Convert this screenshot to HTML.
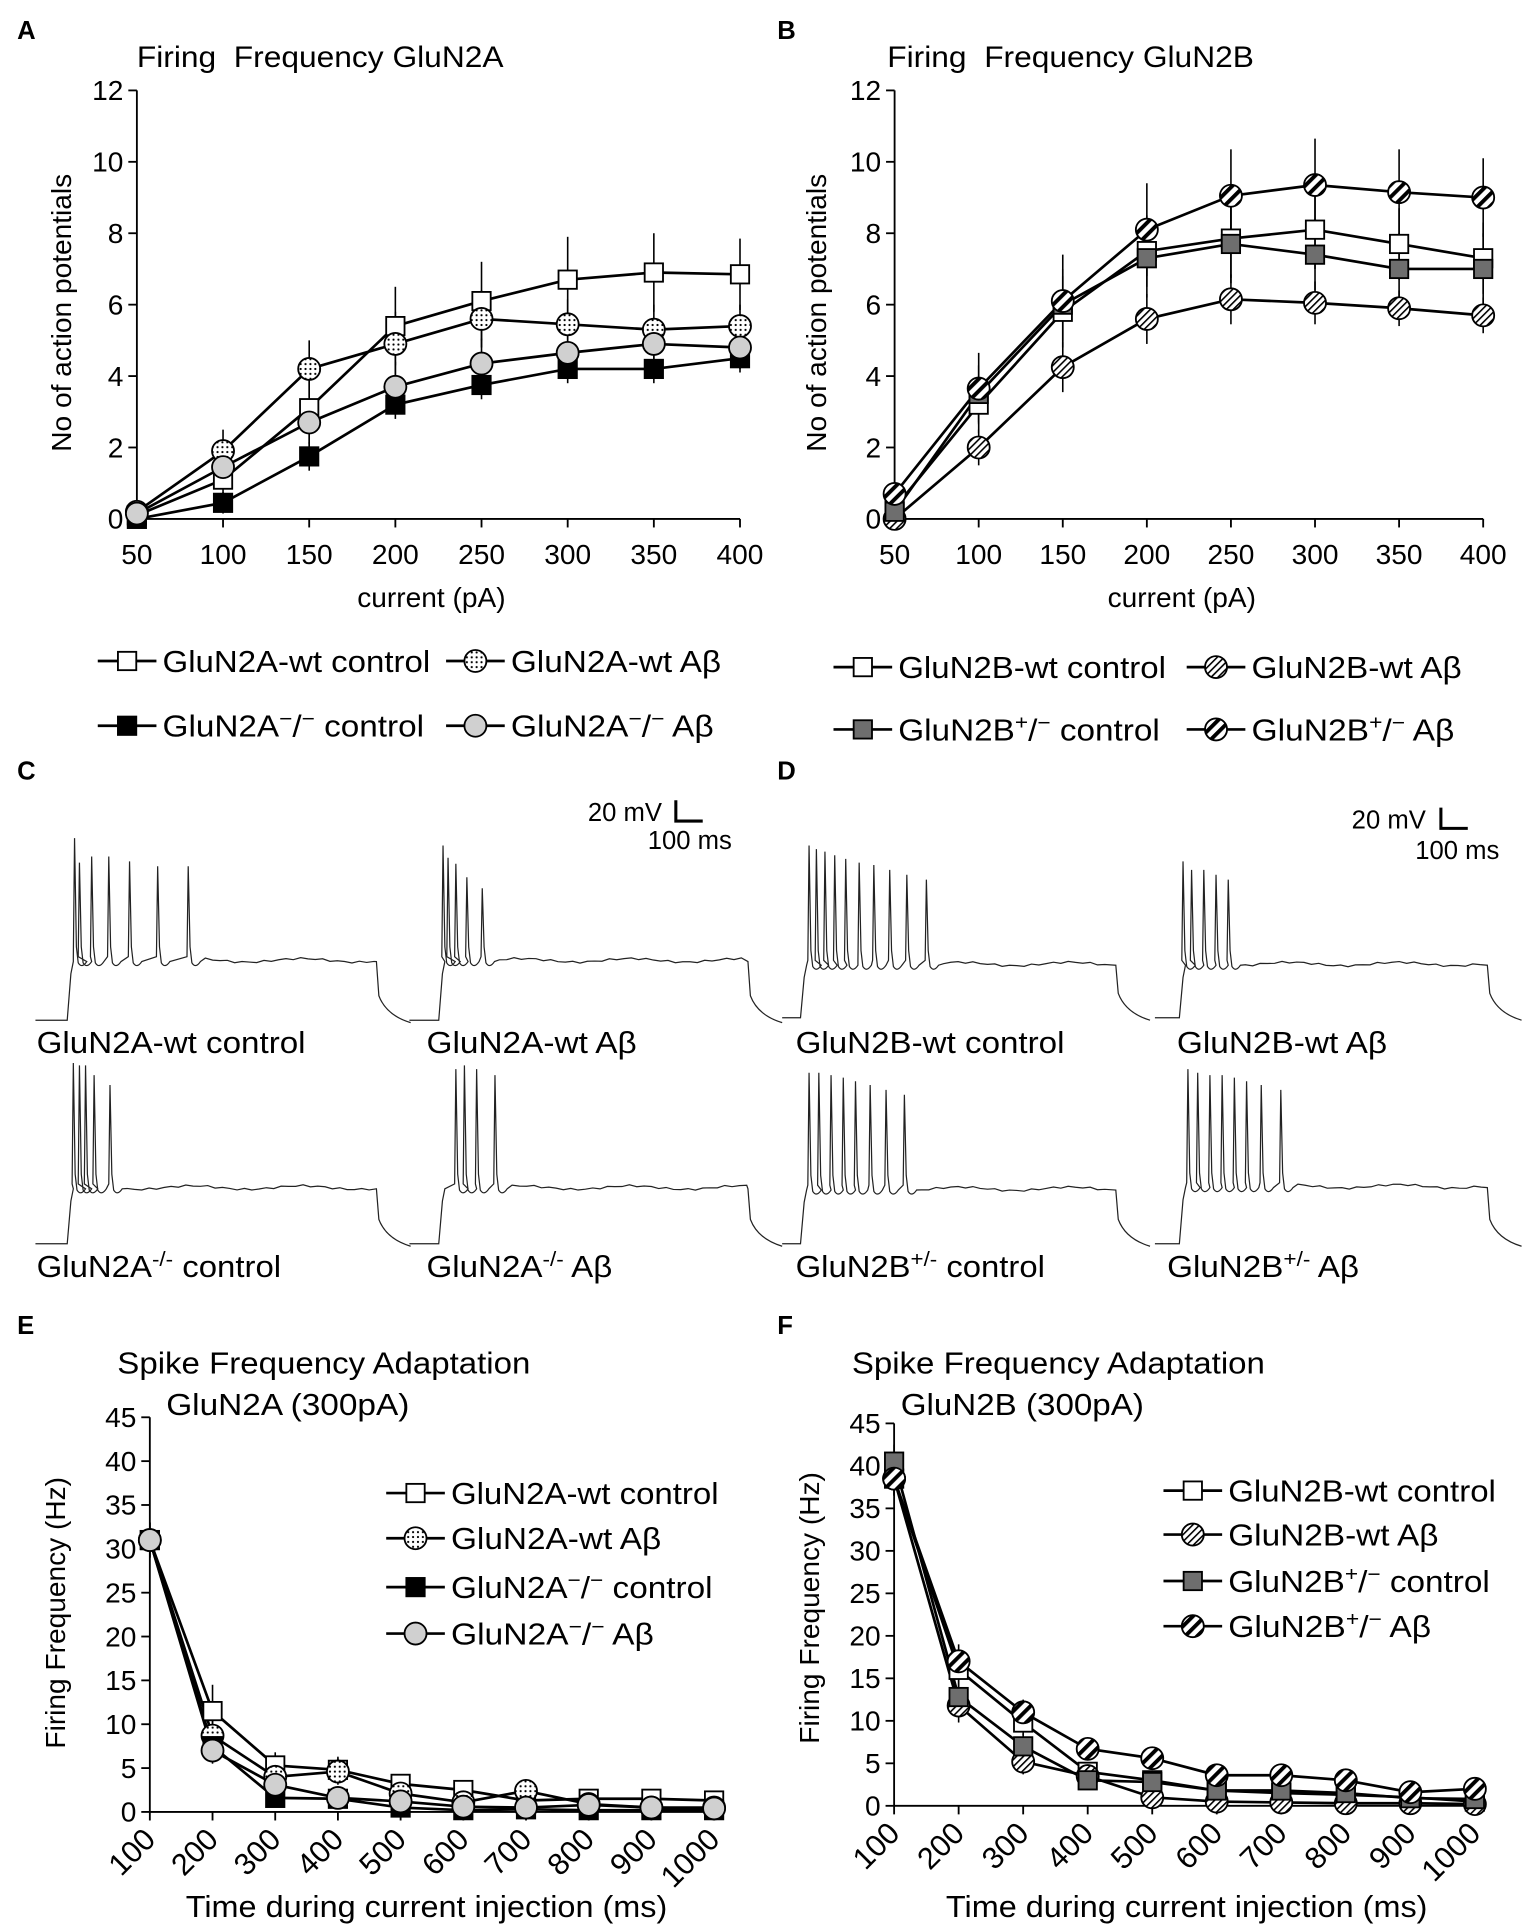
<!DOCTYPE html>
<html><head><meta charset="utf-8"><style>
html,body{margin:0;padding:0;background:#fff}
svg{display:block}
text{font-family:"Liberation Sans",Arial,sans-serif;fill:#000}
</style></head><body>
<svg id="s" width="1535" height="1928" viewBox="0 0 1256 1578" preserveAspectRatio="none" xmlns="http://www.w3.org/2000/svg">
<defs>
<pattern id="dots" width="4" height="4" patternUnits="userSpaceOnUse"><rect width="4" height="4" fill="#fff"/><circle cx="2" cy="2" r="0.9" fill="#000"/></pattern>
<pattern id="hatch" width="4" height="4" patternUnits="userSpaceOnUse" patternTransform="rotate(45)"><rect width="4" height="4" fill="#fff"/><rect width="1.3" height="4" fill="#000"/></pattern>
<pattern id="stripe" width="7" height="7" patternUnits="userSpaceOnUse" patternTransform="rotate(45)"><rect width="7" height="7" fill="#fff"/><rect width="3.2" height="7" fill="#000"/></pattern>
</defs>
<g id="g"></g>
</svg>
<script>
var g=document.getElementById('g'),out='';
function T(x,y,s,sz,extra,w){out+='<text x="'+x+'" y="'+y+'" font-size="'+(sz||20)+'" '+(w?'textLength="'+w+'" lengthAdjust="spacingAndGlyphs" ':'')+(extra||'')+'>'+s+'</text>';}
function L(x1,y1,x2,y2,w){out+='<line x1="'+x1+'" y1="'+y1+'" x2="'+x2+'" y2="'+y2+'" stroke="#000" stroke-width="'+(w||1.5)+'"/>';}
function M(t,x,y){var r=9;
 if(t=='os')out+='<rect x="'+(x-7.5)+'" y="'+(y-7.5)+'" width="15" height="15" fill="#fff" stroke="#000" stroke-width="1.5"/>';
 if(t=='bs')out+='<rect x="'+(x-7.5)+'" y="'+(y-7.5)+'" width="15" height="15" fill="#000" stroke="#000" stroke-width="1.5"/>';
 if(t=='gs')out+='<rect x="'+(x-7.5)+'" y="'+(y-7.5)+'" width="15" height="15" fill="#6e6e6e" stroke="#000" stroke-width="1.5"/>';
 if(t=='dc')out+='<circle cx="'+x+'" cy="'+y+'" r="'+r+'" fill="url(#dots)" stroke="#000" stroke-width="1.5"/>';
 if(t=='gc')out+='<circle cx="'+x+'" cy="'+y+'" r="'+r+'" fill="#d0d0d0" stroke="#000" stroke-width="1.5"/>';
 if(t=='hc')out+='<circle cx="'+x+'" cy="'+y+'" r="'+r+'" fill="url(#hatch)" stroke="#000" stroke-width="1.5"/>';
 if(t=='sc')out+='<circle cx="'+x+'" cy="'+y+'" r="'+r+'" fill="url(#stripe)" stroke="#000" stroke-width="1.5"/>';
}
function series(xs,ys,errs,t){var p='';for(var i=0;i<xs.length;i++){L(xs[i],ys[i]-errs[i],xs[i],ys[i]+errs[i],1.3);p+=(i?'L':'M')+xs[i]+' '+ys[i];}
 out+='<path d="'+p+'" fill="none" stroke="#000" stroke-width="2.2"/>';return [xs,ys,t];}
function chart(o){
 var xR=o.xa+(o.xv.length-1)*o.xd;
 L(o.xa,o.y0,o.xa,o.ytop,1.5);L(o.xa,o.y0,xR,o.y0,1.5);
 for(var i=0;i<=o.ny;i++){var y=o.y0-i*(o.y0-o.ytop)/o.ny;L(o.xa-7,y,o.xa,y,1.5);T(o.xa-11,y+8,i*o.ystep,23,'text-anchor="end"');}
 for(var j=0;j<o.xv.length;j++){var x=o.xa+j*o.xd;L(x,o.y0,x,o.y0+7,1.5);
  if(o.rot)T(x+6,o.y0+24,o.xv[j],25,'text-anchor="end" transform="rotate(-45 '+(x+6)+' '+(o.y0+24)+')"');
  else T(x,o.y0+37,o.xv[j],23,'text-anchor="middle"');}
 var mk=[];
 o.s.forEach(function(s){var xs=[],ys=[],es=[];s.d.forEach(function(v,k){xs.push(o.xa+k*o.xd);ys.push(o.y0-v*(o.y0-o.ytop)/(o.ny*o.ystep));es.push((s.e[k]||0)*(o.y0-o.ytop)/(o.ny*o.ystep));});mk.push(series(xs,ys,es,s.t));});
 mk.forEach(function(m){for(var k=0;k<m[0].length;k++)M(m[2],m[0][k],m[1][k]);});
}
function leg(x,y,t,s,w){L(x,y,x+48,y,2.2);M(t,x+24,y);T(x+53,y+9,s,25,'',w);}
chart({xa:112,y0:424.7,ytop:74,ny:6,ystep:2,xd:70.5,xv:[50,100,150,200,250,300,350,400],s:[
 {t:'os',d:[0.1,1.1,3.1,5.4,6.1,6.7,6.9,6.85],e:[0.1,0.8,1.2,1.1,1.1,1.2,1.1,1]},
 {t:'dc',d:[0.2,1.9,4.2,4.9,5.6,5.45,5.3,5.4],e:[0.1,0.6,0.8,0.9,0.8,0.7,0.7,0.6]},
 {t:'bs',d:[0,0.45,1.75,3.2,3.75,4.2,4.2,4.5],e:[0.05,0.3,0.4,0.4,0.4,0.4,0.4,0.4]},
 {t:'gc',d:[0.15,1.45,2.7,3.7,4.35,4.65,4.9,4.8],e:[0.1,0.5,0.6,0.7,0.7,0.6,0.6,0.6]}]});
chart({xa:732,y0:424.7,ytop:74,ny:6,ystep:2,xd:68.8,xv:[50,100,150,200,250,300,350,400],s:[
 {t:'os',d:[0.3,3.2,5.8,7.5,7.85,8.1,7.7,7.3],e:[0.2,0.8,1,1,1.1,1.1,1,1]},
 {t:'hc',d:[0,2,4.25,5.6,6.15,6.05,5.9,5.7],e:[0.05,0.5,0.7,0.7,0.7,0.6,0.5,0.5]},
 {t:'gs',d:[0.2,3.5,6,7.3,7.7,7.4,7,7],e:[0.2,0.8,1,1.1,1.1,1,1,1]},
 {t:'sc',d:[0.7,3.65,6.1,8.1,9.05,9.35,9.15,9.0],e:[0.3,1,1.3,1.3,1.3,1.3,1.2,1.1]}]});
var tx=[100,200,300,400,500,600,700,800,900,1000];
chart({xa:122.6,y0:1483,ytop:1160,ny:9,ystep:5,xd:51.3,xv:tx,rot:1,s:[
 {t:'os',d:[31,11.5,5.3,4.8,3.2,2.5,1.3,1.5,1.5,1.3],e:[2,3,1.5,1.5,1,1,0.5,0.5,0.5,0.5]},
 {t:'dc',d:[31,8.7,4,4.6,2.1,1.1,2.4,0.9,0.5,0.5],e:[2,2,1,1.5,1,0.5,1,0.5,0.3,0.3]},
 {t:'bs',d:[31,7.5,1.6,1.5,0.5,0.2,0.3,0.2,0.2,0.2],e:[2,1.5,0.5,0.5,0.3,0.2,0.2,0.2,0.2,0.2]},
 {t:'gc',d:[31,7,3.1,1.6,1.2,0.6,0.5,0.8,0.5,0.4],e:[2,1.5,1,0.5,0.5,0.3,0.3,0.3,0.3,0.3]}]});
chart({xa:731.6,y0:1478,ytop:1165,ny:9,ystep:5,xd:52.8,xv:tx,rot:1,s:[
 {t:'os',d:[38.5,16,9.8,4,3,1.8,1.5,1.3,1,0.5],e:[2,2,1.5,1,1,0.5,0.5,0.5,0.5,0.3]},
 {t:'hc',d:[38.5,11.8,5.2,3.5,1,0.5,0.4,0.3,0.3,0.2],e:[2,2,1.5,1,0.5,0.3,0.3,0.3,0.3,0.2]},
 {t:'gs',d:[40.5,12.8,7,3,2.8,1.8,1.8,1.5,0.9,0.8],e:[2,2,1.5,1,1,0.5,0.5,0.5,0.5,0.3]},
 {t:'sc',d:[38.5,17,11,6.7,5.6,3.6,3.6,3,1.6,2],e:[2,2,1.5,1,1,0.5,0.5,0.5,0.5,0.5]}]});
['A',14,32,'B',636,32,'C',14,638,'D',636,638,'E',14,1092,'F',636,1092].forEach(function(v,i,a){if(i%3==0)T(a[i+1],a[i+2],v,21,'font-weight="bold"');});
T(112,55,'Firing&#160; Frequency GluN2A',24,'',300);T(726,55,'Firing&#160; Frequency GluN2B',24,'',300);
T(96,1124,'Spike Frequency Adaptation',25,'',338);T(136,1158,'GluN2A (300pA)',25,'',199);
T(697,1124,'Spike Frequency Adaptation',25,'',338);T(737,1158,'GluN2B (300pA)',25,'',199);
T(58,256,'No of action potentials',23,'text-anchor="middle" transform="rotate(-90 58 256)"');
T(676,256,'No of action potentials',23,'text-anchor="middle" transform="rotate(-90 676 256)"');
T(353,497,'current (pA)',23,'text-anchor="middle"');T(967,497,'current (pA)',23,'text-anchor="middle"');
T(53,1320,'Firing Frequency (Hz)',23,'text-anchor="middle" transform="rotate(-90 53 1320)"');
T(670,1316,'Firing Frequency (Hz)',23,'text-anchor="middle" transform="rotate(-90 670 1316)"');
T(152,1569,'Time during current injection (ms)',25,'',394);
T(774,1569,'Time during current injection (ms)',25,'',394);
var m='<tspan dy="-9" font-size="17">−</tspan><tspan dy="9">/</tspan><tspan dy="-9" font-size="17">−</tspan>';
var p='<tspan dy="-9" font-size="17">+</tspan><tspan dy="9">/</tspan><tspan dy="-9" font-size="17">−</tspan>';
leg(80,541,'os','GluN2A-wt control',219);leg(365,541,'dc','GluN2A-wt Aβ',172);
leg(80,594,'bs','GluN2A'+m+'<tspan dy="9"> control</tspan>',214);
leg(365,594,'gc','GluN2A'+m+'<tspan dy="9"> Aβ</tspan>',166);
leg(682,546,'os','GluN2B-wt control',219);leg(971,546,'hc','GluN2B-wt Aβ',172);
leg(682,597,'gs','GluN2B'+p+'<tspan dy="9"> control</tspan>',214);
leg(971,597,'sc','GluN2B'+p+'<tspan dy="9"> Aβ</tspan>',166);
leg(316,1222,'os','GluN2A-wt control',219);leg(316,1259,'dc','GluN2A-wt Aβ',172);
leg(316,1299,'bs','GluN2A'+m+'<tspan dy="9"> control</tspan>',214);
leg(316,1337,'gc','GluN2A'+m+'<tspan dy="9"> Aβ</tspan>',166);
leg(952,1220,'os','GluN2B-wt control',219);leg(952,1256,'hc','GluN2B-wt Aβ',172);
leg(952,1294,'gs','GluN2B'+p+'<tspan dy="9"> control</tspan>',214);
leg(952,1331,'sc','GluN2B'+p+'<tspan dy="9"> Aβ</tspan>',166);
function trace(xs,xst,xe,base,plat,peak,sp,pk){var p='M'+xs+' '+base+'L'+xst+' '+base+'L'+(xst+3)+' '+(plat+10)+'L'+(xst+5)+' '+plat;
 var cur=xst+5;sp.forEach(function(s,i){var pp=pk?pk[i]:peak;p+='L'+(s-1)+' '+(plat-4)+'L'+s+' '+pp+'L'+(s+1.5)+' '+(plat-12)+'L'+(s+3)+' '+(plat+1)+'Q'+(s+6)+' '+(plat+6)+' '+(s+10)+' '+plat;cur=s+10;});
 for(var x=cur+4;x<xe;x+=6){p+='L'+x+' '+(plat+Math.sin(x*0.4)*0.8+Math.sin(x*0.07)*1.5-1);}
 p+='L'+xe+' '+plat+'L'+(xe+2)+' '+(base-20)+'Q'+(xe+8)+' '+(base-4)+' '+(xe+28)+' '+(base+2);
 out+='<path d="'+p+'" fill="none" stroke="#222" stroke-width="1"/>';}
trace(29,55,308,835,787,686,[61,65,75,89,106,129,154],[686,706,701,701,705,709,709]);
trace(335,359,612,835,787,692,[362.5,366.6,373,382,394.6],[692,702,707,718,727]);
trace(29,55,308,1018,973,870,[60,65,70,77,90],[870,872,872,880,888]);
trace(335,359,612,1018,973,872,[373,380,390,405],[875,872,875,880]);
trace(640,655,913,833,790,692,[662,668,675,683,692,703,715,728,742,758],[692,695,697,700,703,706,708,712,716,720]);
trace(945,965,1217,833,790,700,[968,975,985,995,1005],[705,712,712,716,720]);
trace(640,655,913,1018,974,878,[662,670,680,690,700,712,725,740],[878,878,880,882,885,888,892,896]);
trace(945,965,1217,1018,972,875,[972,980,990,1000,1010,1020,1032,1048],[875,878,880,880,882,885,888,892]);
T(30,862,'GluN2A-wt control',25,'',220);T(349,862,'GluN2A-wt Aβ',25,'',172);T(651,862,'GluN2B-wt control',25,'',220);T(963,862,'GluN2B-wt Aβ',25,'',172);
T(30,1045,'GluN2A<tspan dy="-9" font-size="17">-/-</tspan><tspan dy="9"> control</tspan>',25,'',200);
T(349,1045,'GluN2A<tspan dy="-9" font-size="17">-/-</tspan><tspan dy="9"> Aβ</tspan>',25,'',152);
T(651,1045,'GluN2B<tspan dy="-9" font-size="17">+/-</tspan><tspan dy="9"> control</tspan>',25,'',204);
T(955,1045,'GluN2B<tspan dy="-9" font-size="17">+/-</tspan><tspan dy="9"> Aβ</tspan>',25,'',157);
T(481,672,'20 mV',21);out+='<path d="M553 655V672H575" fill="none" stroke="#000" stroke-width="2.5"/>';T(530,695,'100 ms',21);
T(1106,678,'20 mV',21);out+='<path d="M1179 661V678H1201" fill="none" stroke="#000" stroke-width="2.5"/>';T(1158,703,'100 ms',21);
g.innerHTML=out;
</script>
</body></html>
